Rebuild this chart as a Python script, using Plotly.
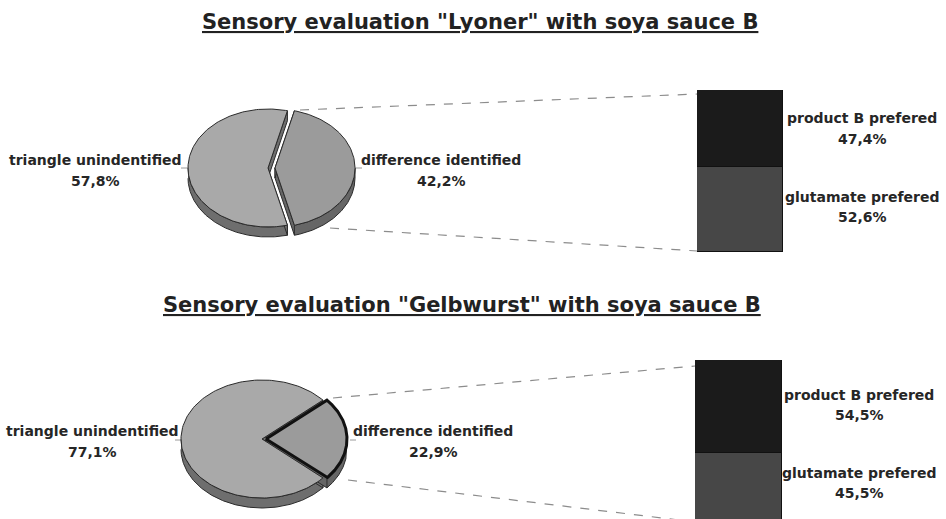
import numpy as np
import plotly.graph_objects as go

W, H = 946, 519

# ---------------- data ----------------
chart_titles = ['Sensory evaluation "Lyoner" with soya sauce B',
                'Sensory evaluation "Gelbwurst" with soya sauce B']
pie_categories = ["triangle unindentified", "difference identified"]
lyoner_pie = [57.8, 42.2]
gelbwurst_pie = [77.1, 22.9]
bar_categories = ["glutamate prefered", "product B prefered"]
lyoner_bar = [52.6, 47.4]
gelbwurst_bar = [45.5, 54.5]


def pct(v):
    return f"{v:.1f}".replace(".", ",") + "%"


fig = go.Figure()

TXT = "#262626"
FONT = "DejaVu Sans"


def ell(cx, cy, a, b, t0, t1, n=160):
    t = np.radians(np.linspace(t0, t1, n))
    return cx + a * np.cos(t), cy - b * np.sin(t)


def poly(x, y, fill, lc, lw):
    fig.add_trace(go.Scatter(x=list(x), y=list(y), mode="lines", fill="toself",
                             fillcolor=fill, line=dict(color=lc, width=lw),
                             hoverinfo="skip", showlegend=False,
                             xaxis="x", yaxis="y"))


def add_pie(values, cx, cy, a, b, depth, explode, small_lw):
    total = sum(values)
    span = 360.0 * values[1] / total
    ranges = [(span / 2, 360 - span / 2), (-span / 2, span / 2)]
    offs = [0.0, explode]
    tops = ["#a9a9a9", "#9b9b9b"]
    walls = ["#6e6e6e", "#666666"]
    lws = [1.0, small_lw]
    # walls first
    for (t0, t1), dx, wc in zip(ranges, offs, walls):
        ox = cx + dx
        tt = np.linspace(t0, t1, 400)
        front = tt[np.sin(np.radians(tt)) <= 0.0]
        if len(front) > 1:
            ax, ay = ell(ox, cy, a, b, front[0], front[-1], 200)
            poly(np.concatenate([ax, ax[::-1]]),
                 np.concatenate([ay, ay[::-1] + depth]), wc, "#2b2b2b", 1)
        for tc in (t0, t1):
            px, py = ell(ox, cy, a, b, tc, tc, 1)
            poly([ox, px[0], px[0], ox, ox], [cy, py[0], py[0] + depth, cy + depth, cy],
                 wc, "#2b2b2b", 1)
    # top faces
    for (t0, t1), dx, tc, lw in zip(ranges, offs, tops, lws):
        ox = cx + dx
        ax, ay = ell(ox, cy, a, b, t0, t1)
        lc = "#111111" if lw > 1.5 else "#2b2b2b"
        poly(np.concatenate([[ox], ax, [ox]]), np.concatenate([[cy], ay, [cy]]),
             tc, lc, lw)


add_pie(lyoner_pie, 268, 168, 80, 59, 10, 7, 1.0)
add_pie(gelbwurst_pie, 262, 439, 81, 59, 10, 4, 3.0)

# ---------------- bars ----------------
bar_colors = ["#474747", "#1b1b1b"]
for vals, ax_id in ((lyoner_bar, "2"), (gelbwurst_bar, "3")):
    for cat, v, c in zip(bar_categories, vals, bar_colors):
        fig.add_trace(go.Bar(x=[0], y=[v], width=1, name=cat,
                             marker=dict(color=c, line=dict(color="#111111", width=1)),
                             xaxis="x" + ax_id, yaxis="y" + ax_id,
                             hoverinfo="skip", showlegend=False))

bar1_top, bar1_bot = 90, 252
bar2_top, bar2_bot = 360, 530

layout_axes = dict(
    xaxis=dict(domain=[0, 1], range=[0, W], visible=False, fixedrange=True),
    yaxis=dict(domain=[0, 1], range=[H, 0], visible=False, fixedrange=True),
    xaxis2=dict(domain=[697 / W, 783 / W], range=[-0.5, 0.5], visible=False, anchor="y2"),
    yaxis2=dict(domain=[1 - bar1_bot / H, 1 - bar1_top / H], range=[0, 100],
                visible=False, anchor="x2"),
    xaxis3=dict(domain=[695 / W, 782 / W], range=[-0.5, 0.5], visible=False, anchor="y3"),
    yaxis3=dict(domain=[0, 1 - bar2_top / H],
                range=[100 * (bar2_bot - H) / (bar2_bot - bar2_top), 100],
                visible=False, anchor="x3"),
)

# ---------------- connectors & leader ticks ----------------
shapes = []
dash = dict(color="#8c8c8c", width=1.2, dash="dash")
for x0, y0, x1, y1 in [(300, 110, 697, 94), (330, 228, 697, 251),
                       (333, 398, 695, 366), (348, 480, 695, 522)]:
    shapes.append(dict(type="line", xref="x", yref="y", x0=x0, y0=y0, x1=x1, y1=y1,
                       line=dash, layer="below"))
tick = dict(color="#9a9a9a", width=1)
for x0, x1, y in [(181, 188, 168), (355, 362, 168), (175, 181, 440), (350, 356, 440)]:
    shapes.append(dict(type="line", xref="x", yref="y", x0=x0, y0=y, x1=x1, y1=y,
                       line=tick, layer="below"))

# ---------------- annotations ----------------
ann = []


def label(x, y1, y2, name, v, size=14):
    ann.append(dict(x=x, y=y1, xref="x", yref="y", text=f"<b>{name}</b>", showarrow=False,
                    font=dict(family=FONT, size=size, color=TXT), xanchor="center",
                    yanchor="middle"))
    ann.append(dict(x=x, y=y2, xref="x", yref="y", text=f"<b>{pct(v)}</b>", showarrow=False,
                    font=dict(family=FONT, size=size, color=TXT), xanchor="center",
                    yanchor="middle"))


label(95, 160, 181, pie_categories[0], lyoner_pie[0])
label(441, 160, 181, pie_categories[1], lyoner_pie[1])
label(862, 118, 139, bar_categories[1], lyoner_bar[1])
label(862, 197, 217, bar_categories[0], lyoner_bar[0])
label(92, 431, 452, pie_categories[0], gelbwurst_pie[0])
label(433, 431, 452, pie_categories[1], gelbwurst_pie[1])
label(859, 395, 415, bar_categories[1], gelbwurst_bar[1])
label(859, 473, 493, bar_categories[0], gelbwurst_bar[0])

for t, x, y in [(chart_titles[0], 480, 22), (chart_titles[1], 462, 305)]:
    ann.append(dict(x=x, y=y, xref="x", yref="y", text=f"<b><u>{t}</u></b>", showarrow=False,
                    font=dict(family=FONT, size=21, color="#222222"), xanchor="center",
                    yanchor="middle"))

fig.update_layout(
    width=W, height=H, margin=dict(l=0, r=0, t=0, b=0),
    paper_bgcolor="white", plot_bgcolor="white",
    barmode="stack", bargap=0, showlegend=False,
    shapes=shapes, annotations=ann, **layout_axes,
)

fig.write_html("out.html", config={"displayModeBar": False})
